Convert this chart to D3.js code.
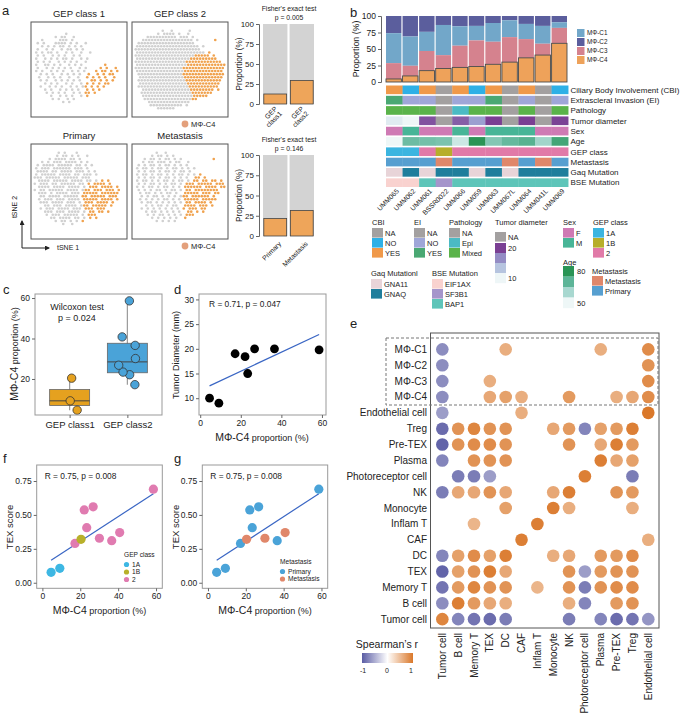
<!DOCTYPE html>
<html>
<head>
<meta charset="utf-8">
<script src="https://cdn.jsdelivr.net/npm/d3@7"></script>
<style>
body { margin: 0; background: #fff; }
</style>
</head>
<body>
<div id="chart"></div>
<script>
// ---------- data ----------
// tSNE panels: '#' = other cell, 'o' = MΦ-C4 cell (coarse grid)
var gepClass1Cells = [
  "", "", "",
  "...........#....................",
  "........#.##..#.................",
  "...#.....###.#..................",
  "..#.#...####.#.#..#.............",
  "...#.#.#.##.#.#.#...............",
  "..#..#.#..#.##.#.#..............",
  ".#.#.##.#..#.#..#..#............",
  "..#.#..#.#.#..#.#...............",
  ".#..#.#.#.##.#..#.#.............",
  "..#.#.#..#.#.#.#..#.............",
  ".#..##.#.#..#.#.#.......o.......",
  "..#..#.#.#.#.#..#.#....o.o..o...",
  ".#.#..#.#.#..#.#.#...o.oo.o.o...",
  "...#.#.#..#.#.#.#..o..o.o.oo....",
  "..#..#.#.#..#..#..o.o.o.o..o....",
  "...#.#..#.#.#.#.#...oo.o.o.o....",
  "....#.#.#..#.#..#.o.o.o.oo......",
  "...#..#.#.#..#.#.#o.o.o.o.......",
  "....#.#..#.#.#.#..o.o.o.........",
  ".....#.#.#.#..#.#.oo.o..........",
  "......#..#.#.#..#.o.............",
  ".......#.#..#.#.................",
  "..........#.#..................."
];
var gepClass2Cells = [
  "", "",
  "..........#..#.....#............",
  "........#.####.#..#.............",
  ".....##########.###.#...........",
  "...#################.#.....o....",
  "..###################...........",
  ".#####################.#........",
  ".######################.........",
  ".#######################.o......",
  ".####################ooooo.o....",
  ".##################ooooooooo....",
  ".#################oooooooooooo..",
  ".#################ooooooooooooo.",
  ".################oooooooooooooo.",
  ".################ooooooooooooo..",
  "..###############oooooooooooooo.",
  "..###############ooooooooooooo..",
  "..################oooooooooooo..",
  "..################ooooooooooo...",
  "..#################oooooooooo...",
  "...################oooooooo.o...",
  "...#################ooooooo.....",
  "...#################ooooo.......",
  "....################oo..........",
  ".....##############.............",
  "......###########.#.............",
  "........######.................."
];
var primaryCells = [
  "", "",
  ".........#.#...#................",
  "........#.##.#.#..#.............",
  "......#.####.##.#...............",
  "...#.#.###.####.#.#.............",
  "..#.####.#####.##.#.#...........",
  ".#.###.######.###.#.............",
  "..####.##.####.###.#.#..........",
  ".#.#####.####.##.###.#..........",
  ".###.#####.#####.###............",
  "..####.#####.####.##.#.o.o......",
  ".#.###.##.#####.##.o.oooo.o.....",
  "..####.####.####.#.ooo.oooo.o...",
  ".#.##.#####.####.#oo.ooo.ooo.o..",
  "..###.#.####.###.ooooo.oooooo...",
  "...##.####.#####.oo.ooooo.ooo...",
  "..#.###.###.####.ooooo.oooo.o...",
  "...###.####.###.#.ooo.oooo.o....",
  "....##.###.####.#oo.ooooo.o.....",
  "...#.###.####.###.ooo.ooo.......",
  "....###.###.####.#.oo.oo.o......",
  ".....#.###.#####.#.ooo..........",
  "......##.####.##.#.o.o..........",
  "........#.##.#.#.o..............",
  "..........#..#.................."
];
var metastasisCells = [
  "", "",
  "........#..#....................",
  "......#.##.#.#..................",
  "....#.##.#.##.#.#..........o....",
  "...#.##.###.#.##..#.............",
  "..#.#.##.#.##.#.#.#.............",
  ".#.##.#.##.#.##.#.#.#...........",
  "..#.#.##.#.##.#.##.#............",
  ".#.##.#.##.#.#.##.#.#.o.........",
  "..#.#.##.#.##.#.#.#..oo.o.......",
  ".#.##.#.#.##.#.##.#.oo.oo.oo.o..",
  "..#.#.##.#.#.##.#.ooo.ooooo.ooo.",
  ".#.#.##.#.##.#.#.oooooo.oooo.oo.",
  "..#.#.#.##.#.##.#.oo.oooooooo...",
  "..#.##.#.#.##.#..ooooo.ooo.oo...",
  "...#.#.##.#.#.#.#oo.oooooo.o....",
  "..#.#.#.#.##.#.#.ooooo.ooooo....",
  "...#.##.#.#.#.#.#.oo.oooo.o.....",
  "....#.#.##.#.##..oooo.ooo.o.....",
  "...#.#.#.#.#.#.#.o.ooo.oo.......",
  "....#.##.#.#.#.#..oo.o.o........",
  ".....#.#.##.#.#.#.ooo...........",
  "......#.#.#.#.#..o..............",
  "........#.#.#.#................."
];

// Fisher's exact test bars (MΦ-C4 proportion, %)
var fisherGepLabels = ["GEP class1", "GEP class2"];
var fisherGepValues = [12.5, 29.5];
var fisherMetLabels = ["Primary", "Metastasis"];
var fisherMetValues = [21.5, 31.5];

// panel b
var samples = ["UMM065", "UMM062", "UMM061", "BSSR0022", "UMM066", "UMM059", "UMM063", "UMM067L", "UMM064", "UMM041L", "UMM069"];
var mcC4 = [4.6, 9.2, 17.2, 20.4, 22.1, 23.4, 26.8, 30.1, 36.6, 40.8, 58.6];
var mcC3 = [24.0, 15.4, 29.8, 20.3, 32.9, 39.6, 34.2, 37.9, 28.4, 17.2, 23.4];
var mcC1 = [45.4, 44.4, 29.0, 45.7, 29.4, 22.0, 28.4, 25.5, 23.0, 27.0, 8.5];
var mcC2 = [26.0, 31.0, 24.0, 13.6, 15.6, 15.0, 10.6, 6.5, 12.0, 15.0, 9.5];

var cbi = ["YES", "NO", "YES", "NA", "YES", "NO", "YES", "NA", "YES", "NA", "NO"];
var ei = ["YES", "NO", "NO", "NA", "NO", "NO", "YES", "NA", "NO", "NA", "NO"];
var pathology = ["Mixed", "Mixed", "Mixed", "NA", "Epi", "Mixed", "Mixed", "NA", "Mixed", "NA", "Mixed"];
var tumorDiameter = [10, 9, 19, null, 18.4, 15, 20, null, 20, null, 19.8];
var sex = ["F", "M", "F", "F", "M", "F", "M", "M", "M", "F", "F"];
var age = [50, 68, 67, 66, 55, 80, 65, 69, 71, 61, 75];
var gepClass = ["1A", "1A", "2", "1B", "2", "2", "2", "2", "2", "2", "2"];
var metastasis = ["Primary", "Primary", "Primary", "Metastasis", "Primary", "Primary", "Primary", "Metastasis", "Primary", "Metastasis", "Primary"];
var gaqMutation = ["GNA11", "GNAQ", "GNA11", "GNAQ", "GNAQ", "GNA11", "GNAQ", "GNA11", "GNAQ", "GNAQ", "GNAQ"];
var bseMutation = ["EIF1AX", "EIF1AX", "BAP1", "SF3B1", "BAP1", "BAP1", "BAP1", "BAP1", "BAP1", "BAP1", "BAP1"];

// panels c, f, g
var texScore = [0.077, 0.106, 0.29, 0.32, 0.537, 0.406, 0.56, 0.328, 0.31, 0.37, 0.69];
var jitter = [0.13, 0.01, 0.13, 0.035, 0.04, -0.075, -0.15, 0.14, 0.135, -0.09, 0.035];

// panel e
var eRows = ["MΦ-C1", "MΦ-C2", "MΦ-C3", "MΦ-C4", "Endothelial cell", "Treg", "Pre-TEX", "Plasma", "Photoreceptor cell", "NK", "Monocyte", "Inflam T", "CAF", "DC", "TEX", "Memory T", "B cell", "Tumor cell"];
var eCols = ["Tumor cell", "B cell", "Memory T", "TEX", "DC", "CAF", "Inflam T", "Monocyte", "NK", "Photoreceptor cell", "Plasma", "Pre-TEX", "Treg", "Endothelial cell"];
var n = null;
var spearman = [
  [-0.7, n, n, n, 0.6, n, n, n, n, n, 0.6, n, n, 0.85],
  [-0.7, n, n, n, n, n, n, n, n, n, n, n, n, 0.8],
  [-0.7, n, n, 0.6, n, n, n, n, n, n, n, n, n, 0.85],
  [-0.7, n, n, 0.65, 0.7, 0.6, n, n, 0.75, n, n, 0.6, 0.65, 0.85],
  [-0.6, n, n, n, n, 0.6, n, n, n, n, n, n, n, 1.0],
  [-0.9, 0.8, 0.9, 0.8, 0.8, n, n, 0.65, 0.75, -0.75, 0.7, 0.75, 0.95, n],
  [-0.95, 0.8, 0.85, 0.85, 0.8, n, n, n, 0.8, n, 0.65, 0.95, 0.75, n],
  [-0.75, n, 0.8, 0.8, 0.8, n, n, n, n, n, 0.95, 0.65, 0.7, n],
  [n, -0.8, -0.8, -0.6, n, n, n, n, n, 0.95, n, n, -0.8, n],
  [-0.8, 0.65, 0.65, 0.8, 0.65, n, n, 0.65, 0.95, n, n, 0.8, 0.75, n],
  [n, n, n, n, 0.7, n, n, 0.95, 0.6, n, n, n, 0.6, n],
  [n, n, 0.55, n, n, n, 0.95, n, n, n, n, n, n, n],
  [n, n, n, n, n, 0.95, n, n, n, n, n, n, n, 0.6],
  [-0.75, 0.7, 0.85, 0.7, 0.95, n, n, 0.6, 0.65, n, 0.75, 0.75, 0.85, n],
  [-0.95, 0.7, 0.8, 0.95, 0.65, n, n, n, 0.8, -0.6, 0.75, 0.8, 0.8, n],
  [-0.85, 0.75, 0.9, 0.8, 0.8, n, 0.55, n, 0.8, -0.8, 0.8, 0.85, 0.85, n],
  [-0.7, 0.95, 0.75, 0.65, 0.6, n, n, n, 0.6, -0.75, n, 0.75, 0.8, n],
  [0.9, -0.75, -0.85, -0.9, -0.8, n, n, n, -0.8, n, -0.75, -0.9, -0.85, -0.65]
];

// ---------- drawing ----------
var FONT = "'Liberation Sans', Arial, sans-serif";
var svg = d3.select("#chart").append("svg")
    .attr("width", 685).attr("height", 722)
    .attr("font-family", FONT);

function label(parent, x, y, s, size, anchor) {
    return parent.append("text")
        .attr("x", x).attr("y", y)
        .attr("dy", "0.35em")
        .attr("font-size", size)
        .attr("text-anchor", anchor || "start")
        .attr("fill", "#222")
        .text(s);
}
function vlabel(parent, x, y, s, size) {
    return parent.append("text")
        .attr("transform", "translate(" + x + "," + y + ") rotate(-90)")
        .attr("dy", "0.35em")
        .attr("font-size", size)
        .attr("text-anchor", "middle")
        .attr("fill", "#222")
        .text(s);
}
function styleAxis(g, size) {
    g.attr("font-family", FONT).attr("font-size", size);
    g.selectAll("line").attr("stroke", "#666");
    g.select(".domain").attr("stroke", "#666");
    g.selectAll("text").attr("fill", "#222");
}

// panel letters
[["a", 2, 10], ["b", 350, 12], ["c", 3, 289], ["d", 174, 289], ["e", 350, 323], ["f", 3, 458], ["g", 174, 458]]
    .forEach(function(p) { label(svg, p[1], p[2], p[0], 13); });

// ----- a: tSNE -----
var GRAY = "#d0d0d0", ORANGE = "#f0a24e";
function tsnePanel(cells, x0, y0, title) {
    var g = svg.append("g").attr("transform", "translate(" + x0 + "," + y0 + ")");
    var gx = d3.scaleLinear().domain([0, 32]).range([0, 96]);
    var gy = d3.scaleLinear().domain([0, 30]).range([1, 94]);
    var pts = [];
    cells.forEach(function(row, r) {
        row.split("").forEach(function(ch, c) {
            if (ch !== ".") pts.push({ r: r, c: c, k: ch });
        });
    });
    pts.sort(function(a, b) { return (a.k === "o") - (b.k === "o"); });
    g.selectAll("circle").data(pts).join("circle")
        .attr("cx", function(d) { return gx(d.c + 0.5 + (d.r % 2 ? 0.25 : -0.25)); })
        .attr("cy", function(d) { return gy(d.r + 0.5); })
        .attr("r", 1.3)
        .attr("fill", function(d) { return d.k === "o" ? ORANGE : GRAY; });
    g.append("rect").attr("width", 96).attr("height", 95)
        .attr("fill", "none").attr("stroke", "#555").attr("stroke-width", 1);
    label(g, 48, -8, title, 9.5, "middle");
}
tsnePanel(gepClass1Cells, 31, 22, "GEP class 1");
tsnePanel(gepClass2Cells, 132, 22, "GEP class 2");
tsnePanel(primaryCells, 31, 144, "Primary");
tsnePanel(metastasisCells, 132, 144, "Metastasis");

[124, 246].forEach(function(y) {
    svg.append("circle").attr("cx", 185).attr("cy", y).attr("r", 3.4).attr("fill", "#e3a07c");
    label(svg, 191, y, "MΦ-C4", 7.5);
});

// tSNE arrows
var defs = svg.append("defs");
defs.append("marker").attr("id", "arr").attr("viewBox", "0 0 10 10")
    .attr("refX", 8).attr("refY", 5).attr("markerWidth", 5).attr("markerHeight", 5)
    .attr("orient", "auto")
    .append("path").attr("d", "M0,0L10,5L0,10Z").attr("fill", "#222");
svg.append("path").attr("d", "M22,248L22,221").attr("stroke", "#222").attr("marker-end", "url(#arr)");
svg.append("path").attr("d", "M22,248L49,248").attr("stroke", "#222").attr("marker-end", "url(#arr)");
vlabel(svg, 15, 207, "tSNE 2", 7);
label(svg, 57, 248, "tSNE 1", 7);

// Fisher bars
function fisherBars(labels, values, top, bottom, pText) {
    var g = svg.append("g");
    var x = d3.scaleBand().domain(labels).range([263, 314]).paddingInner(0.08);
    var y = d3.scaleLinear().domain([0, 100]).range([bottom, top]);
    g.selectAll("rect.bg").data(labels).join("rect").attr("class", "bg")
        .attr("x", function(d) { return x(d); }).attr("width", x.bandwidth())
        .attr("y", y(100)).attr("height", y(0) - y(100)).attr("fill", "#d3d3d3");
    g.selectAll("rect.fg").data(values).join("rect").attr("class", "fg")
        .attr("x", function(d, i) { return x(labels[i]) + 0.8; }).attr("width", x.bandwidth() - 1.6)
        .attr("y", function(d) { return y(d); })
        .attr("height", function(d) { return y(0) - y(d); })
        .attr("fill", "#eea55a").attr("stroke", "#444").attr("stroke-width", 0.8);
    var ax = g.append("g").attr("transform", "translate(259,0)")
        .call(d3.axisLeft(y).tickValues([0, 25, 50, 75, 100]).tickSize(3).tickPadding(2));
    styleAxis(ax, 8);
    vlabel(g, 239, (top + bottom) / 2, "Proportion (%)", 8.2);
    label(g, 289, top - 15, "Fisher's exact test", 6.8, "middle");
    label(g, 289, top - 6, pText, 6.8, "middle");
    labels.forEach(function(s) {
        var parts = s.split(" ");
        var xc = x(s) + x.bandwidth() / 2;
        var t = g.append("text")
            .attr("transform", parts.length > 1
                ? "translate(" + (xc - 1) + "," + (bottom + 2) + ") rotate(-45)"
                : "translate(" + (xc + 3) + "," + (bottom + 5) + ") rotate(-45)")
            .attr("text-anchor", "end").attr("font-size", 6.8).attr("fill", "#222");
        parts.forEach(function(p, i) {
            t.append("tspan").attr("x", 0).attr("dy", i === 0 ? "0.7em" : "1.0em").text(p);
        });
    });
}
fisherBars(fisherGepLabels, fisherGepValues, 24, 104, "p = 0.005");
fisherBars(fisherMetLabels, fisherMetValues, 155, 236, "p = 0.146");

// ----- b: stacked bars + annotation -----
var mcColors = { C1: "#72a7c9", C2: "#5b5e9d", C3: "#d5828e", C4: "#eea25a" };
var bx = d3.scaleBand().domain(samples).range([386, 567]).paddingInner(0.07);
var by = d3.scaleLinear().domain([0, 100]).range([82, 16]);
var stackRows = samples.map(function(s, i) {
    return { sample: s, C4: mcC4[i], C3: mcC3[i], C1: mcC1[i], C2: mcC2[i] };
});
var series = d3.stack().keys(["C4", "C3", "C1", "C2"])(stackRows);
var gb = svg.append("g");
series.slice().reverse().forEach(function(s) {
    gb.append("g").selectAll("rect").data(s).join("rect")
        .attr("x", function(d) { return bx(d.data.sample); })
        .attr("width", bx.bandwidth())
        .attr("y", function(d) { return by(d[1]); })
        .attr("height", function(d) { return by(d[0]) - by(d[1]); })
        .attr("fill", mcColors[s.key])
        .attr("stroke", s.key === "C4" ? "#4a4a4a" : "none")
        .attr("stroke-width", 0.9);
});
var bax = gb.append("g").attr("transform", "translate(381,0)")
    .call(d3.axisLeft(by).tickValues([0, 25, 50, 75, 100]).tickSize(3).tickPadding(2));
styleAxis(bax, 8.5);
vlabel(gb, 356, 49, "Proportion (%)", 8.8);
["C1", "C2", "C3", "C4"].forEach(function(k, i) {
    var y = 33 + i * 9;
    gb.append("rect").attr("x", 577).attr("y", y - 4).attr("width", 7.5).attr("height", 8).attr("fill", mcColors[k]);
    label(gb, 587, y, "MΦ-" + k, 6.3);
});

var NAC = "#a3a0a0";
var cbiColors = { NA: NAC, NO: "#2eb0e6", YES: "#f0994a" };
var eiColors = { NA: NAC, NO: "#9fa6d8", YES: "#4aa873" };
var pathColors = { NA: NAC, Epi: "#4bbac4", Mixed: "#5ab34a" };
var sexColors = { F: "#cf7ab4", M: "#48b597" };
var gepColors = { "1A": "#3bb5e0", "1B": "#b7ae2a", "2": "#e17aa8" };
var metColors = { Metastasis: "#e0876a", Primary: "#579fd0" };
var gaqColors = { GNA11: "#e8d4d8", GNAQ: "#1f7e9c" };
var bseColors = { EIF1AX: "#f9d2cf", SF3B1: "#a595cb", BAP1: "#5ec5b9" };
var diamScale = d3.scaleLinear().domain([9, 12, 15, 20]).range(["#eef6f7", "#c3d6e6", "#9b9fd0", "#7a3f93"]);
var ageScale = d3.scaleLinear().domain([50, 60, 70, 80]).range(["#eef7f7", "#a8d8d0", "#5db598", "#2a9455"]);

var annoRows = [
    { name: "Ciliary Body Involvement (CBI)", values: cbi, color: function(v) { return cbiColors[v]; } },
    { name: "Extrascleral Invasion (EI)", values: ei, color: function(v) { return eiColors[v]; } },
    { name: "Pathology", values: pathology, color: function(v) { return pathColors[v]; } },
    { name: "Tumor diameter", values: tumorDiameter, color: function(v) { return v === null ? NAC : diamScale(v); } },
    { name: "Sex", values: sex, color: function(v) { return sexColors[v]; } },
    { name: "Age", values: age, color: function(v) { return ageScale(v); } },
    { name: "GEP class", values: gepClass, color: function(v) { return gepColors[v]; } },
    { name: "Metastasis", values: metastasis, color: function(v) { return metColors[v]; } },
    { name: "Gaq Mutation", values: gaqMutation, color: function(v) { return gaqColors[v]; } },
    { name: "BSE Mutation", values: bseMutation, color: function(v) { return bseColors[v]; } }
];
var ay = d3.scaleBand().domain(annoRows.map(function(d) { return d.name; })).range([85.5, 187]).paddingInner(0.16);
annoRows.forEach(function(row) {
    gb.append("g").selectAll("rect").data(row.values).join("rect")
        .attr("x", function(d, i) { return bx(samples[i]); })
        .attr("width", bx.step() + 0.3)
        .attr("y", ay(row.name)).attr("height", ay.bandwidth())
        .attr("fill", function(d) { return row.color(d); });
    label(gb, 570.5, ay(row.name) + ay.bandwidth() / 2, row.name, 8);
});
samples.forEach(function(s) {
    gb.append("text")
        .attr("transform", "translate(" + (bx(s) + bx.bandwidth() / 2 + 4) + ",190) rotate(-45)")
        .attr("text-anchor", "end").attr("dy", "0.35em")
        .attr("font-size", 6.8).attr("fill", "#222").text(s);
});

// annotation legends
function catLegend(title, x, y, keys, colors, y0) {
    label(gb, x, y, title, 7.5);
    keys.forEach(function(k, i) {
        var yy = y0 + i * 10;
        gb.append("rect").attr("x", x).attr("y", yy).attr("width", 11).attr("height", 9.6).attr("fill", colors[k]);
        label(gb, x + 13, yy + 5, k, 7.5);
    });
}
catLegend("CBI", 372, 222, ["NA", "NO", "YES"], cbiColors, 228);
catLegend("EI", 414, 222, ["NA", "NO", "YES"], eiColors, 228);
catLegend("Pathology", 449, 222, ["NA", "Epi", "Mixed"], pathColors, 228);
catLegend("Sex", 563, 222, ["F", "M"], sexColors, 228);
catLegend("GEP class", 593, 222, ["1A", "1B", "2"], gepColors, 228);
catLegend("Metastasis", 592, 271, ["Metastasis", "Primary"], metColors, 276);
catLegend("Gaq Mutationl", 371, 273, ["GNA11", "GNAQ"], gaqColors, 279);
catLegend("BSE Mutation", 432, 273, ["EIF1AX", "SF3B1", "BAP1"], bseColors, 279);

// tumour diameter & age gradient keys
label(gb, 495, 222, "Tumor diameter", 7.5);
gb.append("rect").attr("x", 495).attr("y", 232).attr("width", 11).attr("height", 9.6).attr("fill", NAC);
label(gb, 508, 237, "NA", 7.5);
[20, 16, 13, 9].forEach(function(v, i) {
    gb.append("rect").attr("x", 495).attr("y", 243 + i * 10).attr("width", 11).attr("height", 10.2).attr("fill", diamScale(v));
});
label(gb, 508, 248, "20", 7.5);
label(gb, 508, 278, "10", 7.5);
label(gb, 563, 262, "Age", 7.5);
[80, 70, 60, 50].forEach(function(v, i) {
    gb.append("rect").attr("x", 563).attr("y", 266 + i * 10.5).attr("width", 11).attr("height", 10.7).attr("fill", ageScale(v));
});
label(gb, 577, 271, "80", 7.5);
label(gb, 577, 303, "50", 7.5);

// ----- c: boxplot -----
var gc = svg.append("g");
var cGroups = ["GEP class1", "GEP class2"];
var cx = d3.scalePoint().domain(cGroups).range([35, 162]).padding(0.6);
var cy = d3.scaleLinear().domain([2.2, 62]).range([415, 294]);
var cPts = samples.map(function(s, i) {
    return { g: gepClass[i] === "2" ? "GEP class2" : "GEP class1", v: mcC4[i], j: jitter[i] };
});
var cFill = { "GEP class1": "#e5a11f", "GEP class2": "#4aa3d8" };
cGroups.forEach(function(grp) {
    var vals = cPts.filter(function(d) { return d.g === grp; }).map(function(d) { return d.v; }).sort(d3.ascending);
    var q1 = d3.quantile(vals, 0.25), med = d3.quantile(vals, 0.5), q3 = d3.quantile(vals, 0.75);
    var iqr = q3 - q1;
    var lo = d3.min(vals.filter(function(v) { return v >= q1 - 1.5 * iqr; }));
    var hi = d3.max(vals.filter(function(v) { return v <= q3 + 1.5 * iqr; }));
    var xc = cx(grp), w = 40;
    gc.append("line").attr("x1", xc).attr("x2", xc).attr("y1", cy(lo)).attr("y2", cy(hi)).attr("stroke", "#999").attr("stroke-width", 1.2);
    gc.append("rect").attr("x", xc - w / 2).attr("width", w).attr("y", cy(q3)).attr("height", cy(q1) - cy(q3))
        .attr("fill", cFill[grp]).attr("stroke", "#666").attr("stroke-width", 0.8);
    gc.append("line").attr("x1", xc - w / 2).attr("x2", xc + w / 2).attr("y1", cy(med)).attr("y2", cy(med)).attr("stroke", "#444").attr("stroke-width", 1);
});
gc.selectAll("circle").data(cPts).join("circle")
    .attr("cx", function(d) { return cx(d.g) + d.j * cx.step(); })
    .attr("cy", function(d) { return cy(d.v); })
    .attr("r", 4.2)
    .attr("fill", function(d) { return cFill[d.g]; })
    .attr("stroke", "#333").attr("stroke-width", 0.8);
gc.append("rect").attr("x", 35).attr("y", 294).attr("width", 127).attr("height", 121)
    .attr("fill", "none").attr("stroke", "#999");
var cyAx = gc.append("g").attr("transform", "translate(35,0)").call(d3.axisLeft(cy).tickValues([20, 40, 60]).tickSize(3).tickPadding(2));
styleAxis(cyAx, 8.5); cyAx.select(".domain").remove();
var cxAx = gc.append("g").attr("transform", "translate(0,415)").call(d3.axisBottom(cx).tickSize(3).tickPadding(3));
styleAxis(cxAx, 9.5); cxAx.select(".domain").remove();
label(gc, 77, 307, "Wilcoxon test", 9, "middle");
label(gc, 77, 318, "p = 0.024", 9, "middle");
function mcAxisTitle(parent, transform) {
    var t = parent.append("text").attr("transform", transform).attr("text-anchor", "middle")
        .attr("dy", "0.35em").attr("fill", "#222");
    t.append("tspan").attr("font-size", 10.5).text("MΦ-C4");
    t.append("tspan").attr("font-size", 9).text(" proportion (%)");
    return t;
}
mcAxisTitle(gc, "translate(12,354) rotate(-90)");

// ----- d: scatter -----
function regLine(g, xs, ys, x, y) {
    var mx = d3.mean(xs), my = d3.mean(ys);
    var sxy = d3.sum(xs, function(v, i) { return (v - mx) * (ys[i] - my); });
    var sxx = d3.sum(xs, function(v) { return (v - mx) * (v - mx); });
    var b = sxy / sxx, a = my - b * mx;
    var x0 = d3.min(xs), x1 = d3.max(xs);
    g.append("line").attr("x1", x(x0)).attr("y1", y(a + b * x0)).attr("x2", x(x1)).attr("y2", y(a + b * x1))
        .attr("stroke", "#3a66c4").attr("stroke-width", 1.2);
}
function frame(g, x, y, xt, yt, yfmt) {
    var r = x.range(), rr = y.range();
    g.append("rect").attr("x", r[0]).attr("y", rr[1]).attr("width", r[1] - r[0]).attr("height", rr[0] - rr[1])
        .attr("fill", "none").attr("stroke", "#999");
    var ya = g.append("g").attr("transform", "translate(" + r[0] + ",0)")
        .call(d3.axisLeft(y).tickValues(yt).tickSize(3).tickPadding(2).tickFormat(yfmt || d3.format("d")));
    styleAxis(ya, 8.5); ya.select(".domain").remove();
    var xa = g.append("g").attr("transform", "translate(0," + rr[0] + ")")
        .call(d3.axisBottom(x).tickValues(xt).tickSize(3).tickPadding(2));
    styleAxis(xa, 8.5); xa.select(".domain").remove();
}
var gd = svg.append("g");
var dx = d3.scaleLinear().domain([-0.6, 62]).range([199, 326]);
var dy = d3.scaleLinear().domain([6.6, 31.1]).range([415, 294]);
var dPts = samples.map(function(s, i) { return { x: mcC4[i], y: tumorDiameter[i] }; })
    .filter(function(d) { return d.y !== null; });
regLine(gd, dPts.map(function(d) { return d.x; }), dPts.map(function(d) { return d.y; }), dx, dy);
gd.selectAll("circle").data(dPts).join("circle")
    .attr("cx", function(d) { return dx(d.x); }).attr("cy", function(d) { return dy(d.y); })
    .attr("r", 4.4).attr("fill", "#000");
frame(gd, dx, dy, [0, 20, 40, 60], [10, 15, 20, 25, 30]);
label(gd, 209, 304, "R = 0.71, p = 0.047", 8.4);
vlabel(gd, 176, 355, "Tumor Diameter (mm)", 9);
mcAxisTitle(gd, "translate(262,435)");

// ----- f, g: TEX score scatter -----
var fy = d3.scaleLinear().domain([-0.041, 0.868]).range([588.3, 465]);
function texPanel(x0, x1, colorOf, legendTitle, legendKeys, legendColors, lx, ly) {
    var g = svg.append("g");
    var x = d3.scaleLinear().domain([-3, 63.3]).range([x0, x1]);
    var pts = samples.map(function(s, i) { return { x: mcC4[i], y: texScore[i], i: i }; });
    regLine(g, pts.map(function(d) { return d.x; }), texScore, x, fy);
    g.selectAll("circle.pt").data(pts).join("circle").attr("class", "pt")
        .attr("cx", function(d) { return x(d.x); }).attr("cy", function(d) { return fy(d.y); })
        .attr("r", 4.6).attr("fill", function(d) { return colorOf(d.i); });
    frame(g, x, fy, [0, 20, 40, 60], [0, 0.25, 0.5, 0.75], d3.format(".2f"));
    label(g, x0 + 8, 476, "R = 0.75, p = 0.008", 8.4);
    vlabel(g, x0 - 27, 527, "TEX score", 9.5);
    mcAxisTitle(g, "translate(" + ((x0 + x1) / 2) + ",608)");
    label(g, lx, ly, legendTitle, 6.6);
    legendKeys.forEach(function(k, i) {
        var yy = ly + 9.5 + i * 7.5;
        g.append("circle").attr("cx", lx + 2.5).attr("cy", yy).attr("r", 2.6).attr("fill", legendColors[k]);
        label(g, lx + 8, yy, k, 6.6);
    });
}
var fColors = { "1A": "#3db7e3", "1B": "#b8b02a", "2": "#e07bb0" };
var gColors = { Primary: "#4aa3d8", Metastasis: "#e0876a" };
texPanel(36.7, 162.3, function(i) { return fColors[gepClass[i]]; }, "GEP class", ["1A", "1B", "2"], fColors, 124, 555);
texPanel(202.3, 327.7, function(i) { return gColors[metastasis[i]]; }, "Metastasis", ["Primary", "Metastasis"], gColors, 280, 562);

// ----- e: correlation dot matrix -----
var ge = svg.append("g");
var ex = d3.scaleBand().domain(eCols).range([434.4, 656.2]);
var ey = d3.scaleBand().domain(eRows).range([341.4, 627.1]);
var rColor = d3.scaleLinear().domain([-1, 0, 1]).range(["#5a5ca4", "#ffffff", "#da782a"]);
var cells = [];
spearman.forEach(function(row, i) {
    row.forEach(function(v, j) { if (v !== null) cells.push({ r: eRows[i], c: eCols[j], v: v }); });
});
ge.append("rect").attr("x", 430.5).attr("y", 333).attr("width", 228.5).attr("height", 295)
    .attr("fill", "none").attr("stroke", "#555").attr("stroke-width", 1);
ge.append("rect").attr("x", 386).attr("y", 338).attr("width", 272).attr("height", 67)
    .attr("fill", "none").attr("stroke", "#777").attr("stroke-dasharray", "3,2");
ge.selectAll("circle").data(cells).join("circle")
    .attr("cx", function(d) { return ex(d.c) + ex.bandwidth() / 2; })
    .attr("cy", function(d) { return ey(d.r) + ey.bandwidth() / 2; })
    .attr("r", 6.3)
    .attr("fill", function(d) { return rColor(d.v); });
eRows.forEach(function(r) { label(ge, 427, ey(r) + ey.bandwidth() / 2, r, 10, "end"); });
eCols.forEach(function(c) {
    ge.append("text")
        .attr("transform", "translate(" + (ex(c) + ex.bandwidth() / 2) + ",633) rotate(-90)")
        .attr("text-anchor", "end").attr("dy", "0.35em")
        .attr("font-size", 10).attr("fill", "#222").text(c);
});
var grad = defs.append("linearGradient").attr("id", "rgrad");
[-1, 0, 1].forEach(function(v) {
    grad.append("stop").attr("offset", ((v + 1) / 2 * 100) + "%").attr("stop-color", rColor(v));
});
label(ge, 387, 644, "Spearman’s r", 10.5, "middle");
ge.append("rect").attr("x", 362).attr("y", 653).attr("width", 51).attr("height", 10).attr("fill", "url(#rgrad)");
[["-1", 363], ["0", 387], ["1", 411]].forEach(function(t) { label(ge, t[1], 671, t[0], 7, "middle"); });
</script>
</body>
</html>
